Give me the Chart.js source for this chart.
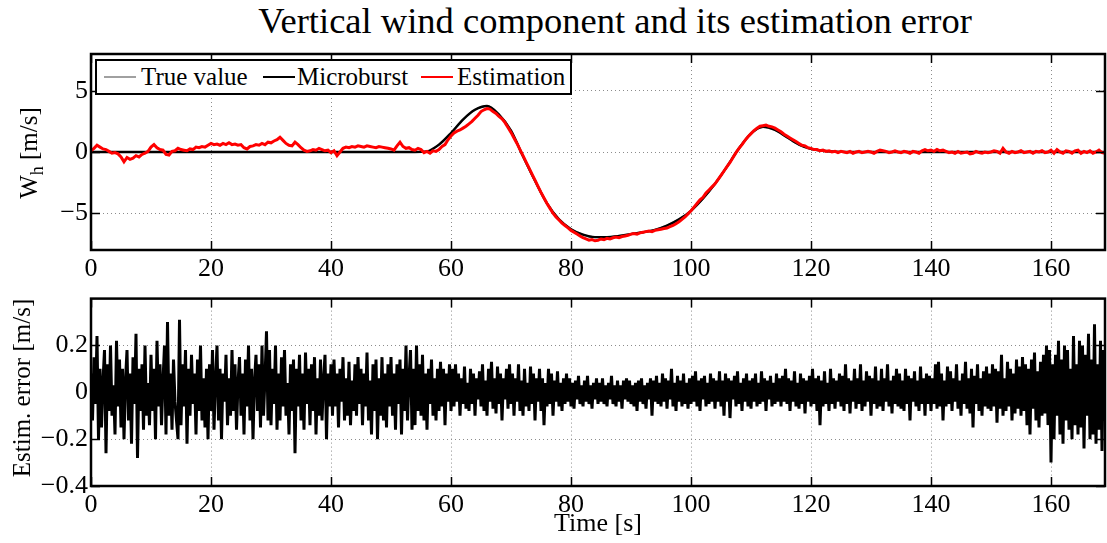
<!DOCTYPE html>
<html lang="en">
<head>
  <meta charset="UTF-8" />
  <title>Vertical wind component and its estimation error</title>
  <script src="https://cdn.jsdelivr.net/npm/chart.js"></script>
  <style>
    body { margin: 0; width: 1107px; height: 543px; position: relative; background: #fff; overflow: hidden;
           font-family: "Liberation Serif", "DejaVu Serif", serif; color: #000; }
    canvas { position: absolute; left: 0; }
    #title { position: absolute; left: 0; width: 1230px; top: 3px; line-height: 36px; text-align: center; font-size: 36.5px; white-space: nowrap; }
    .ylab { position: absolute; white-space: nowrap; font-size: 25px; transform: translate(-50%, -50%) rotate(-90deg); }
    .ylab sub { font-size: 18px; vertical-align: -6px; }
    #legend { position: absolute; left: 95px; top: 59px; width: 477px; height: 36px; box-sizing: border-box;
              border: 2px solid #000; background: #fff; font-size: 25px; }
    #legend .ln { position: absolute; top: 15px; height: 2px; width: 32px; }
    #legend .tx { position: absolute; top: 0px; line-height: 31px; white-space: nowrap; }
  </style>
</head>
<body>

  <div id="title">Vertical wind component and its estimation error</div>
  <canvas id="topChart" width="1107" height="280" style="top:0"></canvas>
  <canvas id="bottomChart" width="1107" height="263" style="top:280px"></canvas>

  <!-- y axis labels -->
  <div class="ylab" style="left:31px;top:153px">W<sub>h</sub> [m/s]</div>
  <div class="ylab" style="left:22px;top:388px">Estim. error [m/s]</div>

  <!-- legend -->
  <div id="legend">
    <span class="ln" style="left:7px;background:#a0a0a0"></span><span class="tx" style="left:44px">True value</span>
    <span class="ln" style="left:166px;background:#000"></span><span class="tx" style="left:200px">Microburst</span>
    <span class="ln" style="left:324px;background:#ff0000"></span><span class="tx" style="left:360px">Estimation</span>
  </div>

<script>
// ---- data ----
const xTicks = [0, 20, 40, 60, 80, 100, 120, 140, 160];
const yTicksTop = [-5, 0, 5];
const yTicksBottom = [-0.4, -0.2, 0, 0.2];

// microburst profile (same as true value), seconds / m/s
const microTime = [0,20,40,50,54,56,58,60,62,64,66,68,70,72,74,76,78,80,82,84,86,88,90,92,94,96,98,100,102,104,106,108,110,112,114,116,118,120,122,124,126,140,169];
const microburst = [0,0,0,0,0,0.05,0.6,1.55,2.65,3.45,3.75,3.05,1.75,-0.35,-2.35,-4.2,-5.5,-6.3,-6.75,-6.95,-6.95,-6.85,-6.7,-6.55,-6.35,-6.0,-5.5,-4.8,-3.8,-2.6,-1.2,0.3,1.5,2.05,1.8,1.2,0.6,0.25,0.1,0.03,0,0,0];
const trueValue = microburst;

// estimated wind, one sample every 0.5 s from t = 0
const estStep = 0.5;
const estimation = [
  0.1,0.3,0.55,0.4,0.25,0.2,0.05,-0.1,-0.05,-0.15,-0.4,-0.8,-0.45,-0.6,-0.5,-0.3,-0.4,-0.2,-0.1,0.05,
  0.4,0.6,0.35,0.2,0.15,-0.2,-0.25,0.05,0.1,0.3,0.2,0.15,0.1,0.25,0.2,0.4,0.35,0.45,0.4,0.55,
  0.7,0.6,0.65,0.55,0.7,0.6,0.75,0.6,0.65,0.55,0.6,0.35,0.25,0.45,0.5,0.6,0.55,0.7,0.6,0.8,
  0.75,0.9,1.0,1.2,0.95,0.7,0.55,0.5,0.8,0.6,0.35,0.15,0.05,0.1,0.2,0.15,0.3,0.2,0.1,0.15,
  -0.05,0.1,-0.3,0.0,0.3,0.4,0.35,0.45,0.4,0.5,0.45,0.4,0.5,0.45,0.4,0.35,0.45,0.4,0.35,0.3,
  0.25,0.15,0.5,0.8,0.45,0.3,0.35,0.2,0.15,0.3,0.2,-0.05,0.05,-0.1,0.1,0.05,0.2,0.45,0.6,1.0,
  1.3,1.55,1.7,1.8,1.95,2.1,2.3,2.5,2.75,3.0,3.3,3.45,3.55,3.5,3.3,3.15,2.9,2.7,2.4,2.0,
  1.6,1.15,0.7,0.2,-0.3,-0.8,-1.3,-1.8,-2.3,-2.8,-3.3,-3.75,-4.2,-4.6,-5.0,-5.3,-5.55,-5.8,-6.0,-6.2,
  -6.4,-6.55,-6.7,-6.85,-7.0,-7.1,-7.2,-7.15,-7.25,-7.2,-7.1,-7.15,-7.05,-7.1,-7.0,-6.95,-7.0,-6.9,-6.85,-6.8,
  -6.7,-6.65,-6.7,-6.6,-6.55,-6.5,-6.45,-6.5,-6.4,-6.35,-6.3,-6.25,-6.2,-6.1,-6.0,-5.85,-5.7,-5.5,-5.3,-5.05,
  -4.8,-4.5,-4.2,-3.9,-3.7,-3.35,-3.1,-2.85,-2.6,-2.25,-1.9,-1.55,-1.2,-0.85,-0.45,-0.05,0.3,0.6,0.95,1.25,
  1.5,1.75,1.95,2.1,2.15,2.2,2.1,2.05,1.95,1.8,1.65,1.45,1.3,1.15,1.0,0.85,0.7,0.55,0.5,0.35,
  0.3,0.2,0.2,0.1,0.15,0.05,0.1,0.0,0.05,-0.05,0.05,0.0,-0.05,0.05,-0.1,0.0,0.05,-0.05,0.0,0.05,
  0.0,-0.1,0.05,0.15,0.1,0.05,-0.05,0.0,0.1,0.0,-0.05,0.05,0.0,-0.1,0.05,0.0,-0.1,0.1,0.2,0.1,
  0.15,0.05,0.2,0.1,0.15,0.05,-0.05,0.0,-0.1,0.05,-0.1,-0.05,0.0,-0.15,-0.1,0.05,-0.05,-0.1,0.0,-0.05,
  0.0,0.1,0.05,-0.1,0.3,0.0,-0.1,0.05,-0.05,0.0,0.1,-0.05,0.0,0.05,-0.1,0.05,0.0,0.1,-0.05,0.0,
  0.15,-0.1,0.2,0.0,-0.1,0.1,0.05,-0.1,0.1,0.15,-0.1,0.05,-0.05,0.1,-0.1,0.0,0.15,-0.05,-0.1
];

// estimation error, one sample every 0.25 s from t = 0
const errStep = 0.25;
const estimError = [
  .08,-.12,.15,-.05,.24,-.2,.1,-.15,.05,.18,-.26,.12,-.08,.2,-.1,.03,-.18,.22,-.06,.14,
  -.15,.1,-.2,.05,.18,-.12,.08,-.22,.15,-.05,.25,-.28,.1,-.08,.12,-.16,.2,-.1,.04,-.14,
  .16,-.08,.1,-.2,.22,-.06,.12,-.14,.05,.2,-.18,.3,-.1,.08,-.16,.14,-.04,-.12,-.2,.31,
  -.14,.12,-.06,.18,-.22,.1,-.1,.16,-.05,.08,-.18,.14,-.08,.2,-.12,.06,-.15,.1,-.2,.12,
  -.08,.18,-.16,.05,.2,-.12,.1,-.2,.08,-.04,.16,-.14,.06,-.1,.18,-.08,.12,-.16,.04,.15,
  -.1,.08,-.18,.14,-.06,.2,-.12,.1,-.2,.05,.16,-.08,.12,-.15,.2,-.1,.06,.26,-.12,.18,
  -.14,.1,-.05,.2,-.16,.08,-.12,.15,-.06,.18,-.1,.04,-.18,.12,-.08,.14,-.26,.1,-.06,.16,
  -.12,.08,-.16,.17,-.05,.1,-.14,.12,-.08,.15,-.18,.06,-.1,.14,-.12,.05,.16,-.2,.08,-.06,
  .12,-.1,.14,-.06,.08,-.15,.1,-.04,.15,-.12,.06,-.1,.13,-.14,.05,-.08,.12,-.1,.15,-.05,
  .1,-.14,.08,-.06,.17,-.12,.05,-.18,.12,-.08,.14,-.2,.06,-.1,.15,-.12,.08,-.15,.12,-.06,
  .15,-.1,.08,-.16,.12,-.05,.14,-.18,.1,-.08,.2,-.12,.06,.18,-.16,.1,-.14,.2,-.08,.12,
  -.1,.16,-.12,.08,-.16,.1,-.05,.14,-.1,.06,-.12,.1,-.08,.13,-.06,.1,-.14,.08,-.04,.12,
  -.08,.1,-.06,.12,-.04,.08,-.1,.06,-.05,.11,-.07,.04,-.08,.1,-.05,.08,-.1,.06,-.03,.09,
  -.06,.12,-.08,.05,-.1,.1,-.04,.13,-.07,.06,-.09,.11,-.05,.08,-.12,.06,-.03,.1,-.07,.12,
  -.05,.08,-.1,.06,-.04,.12,-.08,.05,-.1,.1,-.06,.04,-.08,.11,-.05,.08,-.12,.06,-.04,.1,
  -.08,.06,-.14,.04,-.06,.1,-.05,.08,-.1,.05,-.04,.09,-.06,.04,-.08,.06,-.05,.08,-.04,.06,
  -.06,.04,-.07,.05,-.03,.07,-.05,.03,-.06,.05,-.04,.07,-.05,.03,-.07,.04,-.03,.06,-.05,.04,
  -.04,.06,-.05,.03,-.06,.04,-.03,.07,-.05,.03,-.06,.05,-.04,.03,-.07,.05,-.03,.06,-.04,.05,
  -.05,.03,-.06,.04,-.08,.05,-.04,.06,-.05,.03,-.07,.04,-.03,.06,-.1,.05,-.04,.07,-.05,.04,
  -.06,.08,-.04,.06,-.07,.05,-.03,.1,-.06,.04,-.08,.07,-.04,.05,-.06,.08,-.05,.04,-.07,.06,
  -.05,.07,-.04,.09,-.06,.05,-.08,.06,-.03,.07,-.06,.04,-.05,.08,-.04,.06,-.07,.05,-.04,.09,
  -.06,.05,-.1,.08,-.04,.06,-.11,.05,-.03,.07,-.06,.09,-.05,.04,-.08,.06,-.04,.08,-.06,.05,
  -.07,.06,-.04,.08,-.06,.04,-.05,.09,-.04,.06,-.08,.05,-.03,.07,-.06,.04,-.05,.08,-.04,.06,
  -.06,.07,-.04,.1,-.05,.06,-.08,.05,-.04,.09,-.06,.04,-.07,.08,-.05,.06,-.09,.05,-.04,.07,
  -.06,.1,-.05,.06,-.08,.07,-.14,.05,-.06,.09,-.05,.04,-.08,.1,-.05,.06,-.07,.05,-.04,.08,
  -.06,.07,-.08,.12,-.05,.06,-.09,.05,-.04,.1,-.07,.06,-.05,.12,-.08,.05,-.06,.09,-.04,.07,
  -.1,.06,-.05,.11,-.07,.05,-.06,.1,-.08,.06,-.04,.12,-.06,.05,-.09,.07,-.05,.1,-.06,.08,
  -.07,.05,-.08,.1,-.05,.07,-.12,.06,-.04,.09,-.06,.05,-.08,.11,-.05,.06,-.1,.08,-.05,.07,
  -.08,.06,-.05,.12,-.07,.13,-.06,.08,-.12,.05,-.06,.11,-.05,.09,-.08,.06,-.04,.12,-.07,.05,
  -.1,.08,-.05,.13,-.07,.06,-.09,.1,-.15,.07,-.05,.12,-.08,.06,-.1,.09,-.06,.11,-.07,.08,
  -.08,.12,-.06,.1,-.13,.09,-.07,.16,-.1,.06,-.08,.13,-.06,.1,-.12,.08,-.09,.14,-.07,.11,
  -.1,.15,-.08,.12,-.14,.1,-.18,.14,-.07,.17,-.12,.09,-.15,.13,-.1,.16,-.09,.2,-.14,.18,
  -.3,.12,-.2,.16,-.1,.22,-.18,.14,-.22,.2,-.12,.18,-.16,.1,-.2,.24,-.14,.12,-.18,.22,
  -.15,.2,-.24,.16,-.1,.25,-.2,.14,-.18,.29,-.22,.12,-.16,.22,-.25,.18,-.12
];

// ---- helpers ----
const SERIF = '"Liberation Serif", "DejaVu Serif", serif';
const fmt = v => (v < 0 ? '\u2212' + Math.abs(v) : String(v));
const pts = (xs, ys) => ys.map((y, i) => ({ x: xs[i], y: y }));
const stepPts = (step, ys) => ys.map((y, i) => ({ x: i * step, y: y }));

// box around the axes with inward ticks, matlab style
const framePlugin = {
  id: 'frame',
  afterDraw(chart) {
    const { ctx, chartArea: a, scales } = chart;
    ctx.save();
    ctx.strokeStyle = '#000';
    ctx.lineWidth = 1.5;
    const tl = 9;
    ctx.beginPath();
    scales.x.ticks.forEach(t => {
      const px = Math.round(scales.x.getPixelForValue(t.value)) + 0.5;
      ctx.moveTo(px, a.bottom); ctx.lineTo(px, a.bottom - tl);
      ctx.moveTo(px, a.top); ctx.lineTo(px, a.top + tl);
    });
    scales.y.ticks.forEach(t => {
      const py = Math.round(scales.y.getPixelForValue(t.value)) + 0.5;
      ctx.moveTo(a.left, py); ctx.lineTo(a.left + tl, py);
      ctx.moveTo(a.right, py); ctx.lineTo(a.right - tl, py);
    });
    ctx.stroke();
    ctx.lineWidth = 2.5;
    ctx.strokeRect(a.left, a.top, a.right - a.left, a.bottom - a.top);
    ctx.restore();
  }
};

function axes(yMin, yMax, yTicks, xHeight, xPad, xTitle) {
  return {
    x: {
      type: 'linear', min: 0, max: 169,
      afterBuildTicks: s => { s.ticks = xTicks.map(v => ({ value: v })); },
      afterFit: s => { s.height = xHeight; },
      grid: { color: '#8c8c8c', lineWidth: 1, drawTicks: false },
      border: { display: false, dash: [1, 3] },
      ticks: { color: '#000', padding: xPad, maxRotation: 0, font: { family: SERIF, size: 26 } },
      title: xTitle
    },
    y: {
      min: yMin, max: yMax,
      afterBuildTicks: s => { s.ticks = yTicks.map(v => ({ value: v })); },
      afterFit: s => { s.width = 91; },
      grid: { color: '#8c8c8c', lineWidth: 1, drawTicks: false },
      border: { display: false, dash: [1, 3] },
      ticks: { color: '#000', padding: 3, font: { family: SERIF, size: 26 }, callback: v => fmt(v) }
    }
  };
}

const common = {
  responsive: false,
  animation: false,
  devicePixelRatio: 1,
  plugins: { legend: { display: false }, tooltip: { enabled: false } },
  elements: { point: { radius: 0 } }
};

new Chart(document.getElementById('topChart'), {
  type: 'line',
  data: {
    datasets: [
      { label: 'Estimation', data: stepPts(estStep, estimation), borderColor: '#ff0000', borderWidth: 3, tension: 0, order: 0 },
      { label: 'Microburst', data: pts(microTime, microburst), borderColor: '#000', borderWidth: 2.4, cubicInterpolationMode: 'monotone', order: 1 },
      { label: 'True value', data: pts(microTime, trueValue), borderColor: '#a0a0a0', borderWidth: 2, cubicInterpolationMode: 'monotone', order: 2 }
    ]
  },
  options: Object.assign({}, common, {
    layout: { padding: { top: 54, right: 2, left: 0, bottom: 0 } },
    scales: axes(-8, 8, yTicksTop, 30, 4, { display: false })
  }),
  plugins: [framePlugin]
});

new Chart(document.getElementById('bottomChart'), {
  type: 'line',
  data: {
    datasets: [
      { label: 'Estimation error', data: stepPts(errStep, estimError), borderColor: '#000', borderWidth: 3, tension: 0 }
    ]
  },
  options: Object.assign({}, common, {
    layout: { padding: { top: 11, right: 2, left: 0, bottom: 0 } },
    scales: axes(-0.4, 0.4, yTicksBottom, 57, 4, {
      display: true, text: 'Time [s]', color: '#000',
      font: { family: SERIF, size: 26 }, padding: { top: -8, bottom: 3 }
    })
  }),
  plugins: [framePlugin]
});
</script>
</body>
</html>
